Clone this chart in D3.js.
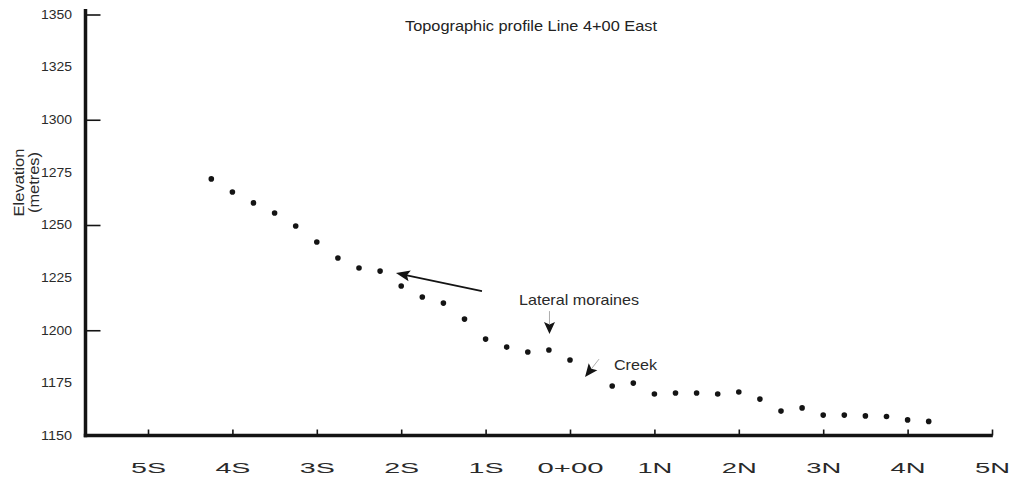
<!DOCTYPE html>
<html><head><meta charset="utf-8">
<script src="https://cdn.jsdelivr.net/npm/d3@7"></script>
<style>
body{margin:0;background:#fff}
svg{display:block}
text{font-family:"Liberation Sans",Arial,Helvetica,sans-serif}
</style>
</head><body>
<svg id="chart" width="1012" height="479"></svg>
<script>
// ---- data (station in metres, negative = South; elevation in metres) ----
const stations = [-425,-400,-375,-350,-325,-300,-275,-250,-225,-200,-175,-150,-125,-100,-75,-50,-25,0,
                  50,75,100,125,150,175,200,225,250,275,300,325,350,375,400,425];
const elevations = [1271.9,1265.7,1260.5,1255.7,1249.5,1241.9,1234.3,1229.6,1228.1,1221.0,1215.8,1212.9,
                    1205.3,1195.8,1192.0,1189.7,1190.6,1185.9,1173.5,1174.9,1169.7,1170.2,1170.2,1169.7,
                    1170.7,1167.3,1161.6,1163.1,1159.7,1159.7,1159.3,1159.0,1157.4,1156.7];
const xTickValues = [-500,-400,-300,-200,-100,0,100,200,300,400,500];
const xTickLabels = ["5S","4S","3S","2S","1S","0+00","1N","2N","3N","4N","5N"];
const yLabelValues = [1150,1175,1200,1225,1250,1275,1300,1325,1350];
const yTickMarks = [1200,1250,1300,1350];
const titleText = "Topographic profile Line 4+00 East";
const yTitleLines = ["Elevation","(metres)"];
// annotations in data units
const arrowLong = {from:[-104.3,1218.6], to:[-206.2,1227.2]};
const moraineLabel = {text:"Lateral moraines", at:[-60.4,1212.0]};
const moraineArrow = {from:[-24.3,1209.1], to:[-24.3,1198.2]};
const creekLabel = {text:"Creek", at:[52.1,1181.1]};
const creekArrow = {from:[34.4,1186.3], to:[17.8,1177.8]};

const svg = d3.select("#chart");
const x = d3.scaleLinear().domain([-500,500]).range([148,992]);
const y = d3.scaleLinear().domain([1150,1350]).range([435.5,14.5]);
const axisY = 435.5, axisX = 85.5;
const ink = "#141414", txt = "#2a2a2a";

// y tick labels
const gyl = svg.append("g").attr("transform",`translate(${axisX},0)`)
  .call(d3.axisLeft(y).tickValues(yLabelValues).tickSize(0).tickPadding(13.5).tickFormat(d3.format("d")));
gyl.select(".domain").remove();
gyl.selectAll("text").attr("font-size",12).attr("fill",txt).attr("font-family",null)
  .attr("textLength",31).attr("lengthAdjust","spacingAndGlyphs");

// y tick marks (inward)
const gyt = svg.append("g").attr("transform",`translate(${axisX},0)`)
  .call(d3.axisRight(y).tickValues(yTickMarks).tickSize(15).tickFormat(""));
gyt.select(".domain").remove();
gyt.selectAll("line").attr("stroke",ink).attr("stroke-width",1.6);

// x tick labels
const gxl = svg.append("g").attr("transform",`translate(0,${axisY})`)
  .call(d3.axisBottom(x).tickValues(xTickValues).tickSize(0).tickFormat((d,i)=>xTickLabels[i]));
gxl.select(".domain").remove();
gxl.selectAll("text").attr("font-size",14).attr("fill",txt).attr("font-family",null)
  .attr("y",37).attr("dy",0)
  .attr("textLength",d=>xTickLabels[xTickValues.indexOf(d)].length>2?66:35)
  .attr("lengthAdjust","spacingAndGlyphs");

// x tick marks (inward)
const gxt = svg.append("g").attr("transform",`translate(0,${axisY})`)
  .call(d3.axisTop(x).tickValues(xTickValues).tickSize(6).tickFormat(""));
gxt.select(".domain").remove();
gxt.selectAll("line").attr("stroke",ink).attr("stroke-width",1.6);

// axis frame lines
svg.append("line").attr("x1",axisX).attr("x2",axisX).attr("y1",9).attr("y2",axisY+1.75)
  .attr("stroke",ink).attr("stroke-width",3.5);
svg.append("line").attr("x1",axisX-1.75).attr("x2",x(500)+0.8).attr("y1",axisY).attr("y2",axisY)
  .attr("stroke",ink).attr("stroke-width",3.5);

// points
svg.append("g").selectAll("circle").data(stations).join("circle")
  .attr("cx",d=>x(d)).attr("cy",(d,i)=>y(elevations[i])).attr("r",2.8).attr("fill",ink);

// title
svg.append("text").attr("x",405).attr("y",31).attr("font-size",14.5).attr("fill","#222")
  .attr("textLength",252).attr("lengthAdjust","spacingAndGlyphs").text(titleText);

// y title
const yt = [{t:yTitleLines[0],bx:23.5,len:68},{t:yTitleLines[1],bx:39,len:61}];
svg.selectAll(".ytitle").data(yt).join("text").attr("class","ytitle")
  .attr("transform",d=>`translate(${d.bx},182.5) rotate(-90)`)
  .attr("text-anchor","middle").attr("font-size",15).attr("fill",txt)
  .attr("textLength",d=>d.len).attr("lengthAdjust","spacingAndGlyphs").text(d=>d.t);

// arrow helper
function arrowHead(g, tail, tip, len, half, color){
  const dx = tip[0]-tail[0], dy = tip[1]-tail[1];
  const L = Math.hypot(dx,dy), ux = dx/L, uy = dy/L, px = -uy, py = ux;
  const bx = tip[0]-ux*len, by = tip[1]-uy*len;
  const nx = tip[0]-ux*len*0.8, ny = tip[1]-uy*len*0.8;
  g.append("path").attr("d",
    `M${tip[0]},${tip[1]}L${bx+px*half},${by+py*half}L${nx},${ny}L${bx-px*half},${by-py*half}Z`)
    .attr("fill",color);
  return [nx,ny];
}
const ga = svg.append("g");
// long arrow
{
  const t = [x(arrowLong.from[0]),y(arrowLong.from[1])], h = [x(arrowLong.to[0]),y(arrowLong.to[1])];
  const n = arrowHead(ga,t,h,14,5.5,ink);
  ga.append("line").attr("x1",t[0]).attr("y1",t[1]).attr("x2",n[0]).attr("y2",n[1])
    .attr("stroke",ink).attr("stroke-width",1.7);
}
// moraine arrow
{
  const t = [x(moraineArrow.from[0]),y(moraineArrow.from[1])], h = [x(moraineArrow.to[0]),y(moraineArrow.to[1])];
  const n = arrowHead(ga,t,h,12,5.5,ink);
  ga.append("line").attr("x1",t[0]).attr("y1",t[1]).attr("x2",n[0]).attr("y2",n[1])
    .attr("stroke","#999").attr("stroke-width",0.8);
}
// creek arrow
{
  const t = [x(creekArrow.from[0]),y(creekArrow.from[1])], h = [x(creekArrow.to[0]),y(creekArrow.to[1])];
  const n = arrowHead(ga,t,h,13,5.5,ink);
  ga.append("line").attr("x1",t[0]).attr("y1",t[1]).attr("x2",n[0]).attr("y2",n[1])
    .attr("stroke","#999").attr("stroke-width",0.8);
}
// labels
svg.append("text").attr("x",x(moraineLabel.at[0])).attr("y",y(moraineLabel.at[1]))
  .attr("font-size",14.5).attr("fill",txt).attr("textLength",120).attr("lengthAdjust","spacingAndGlyphs")
  .text(moraineLabel.text);
svg.append("text").attr("x",x(creekLabel.at[0])).attr("y",y(creekLabel.at[1]))
  .attr("font-size",14.5).attr("fill",txt).attr("textLength",43).attr("lengthAdjust","spacingAndGlyphs")
  .text(creekLabel.text);
</script>
</body></html>
